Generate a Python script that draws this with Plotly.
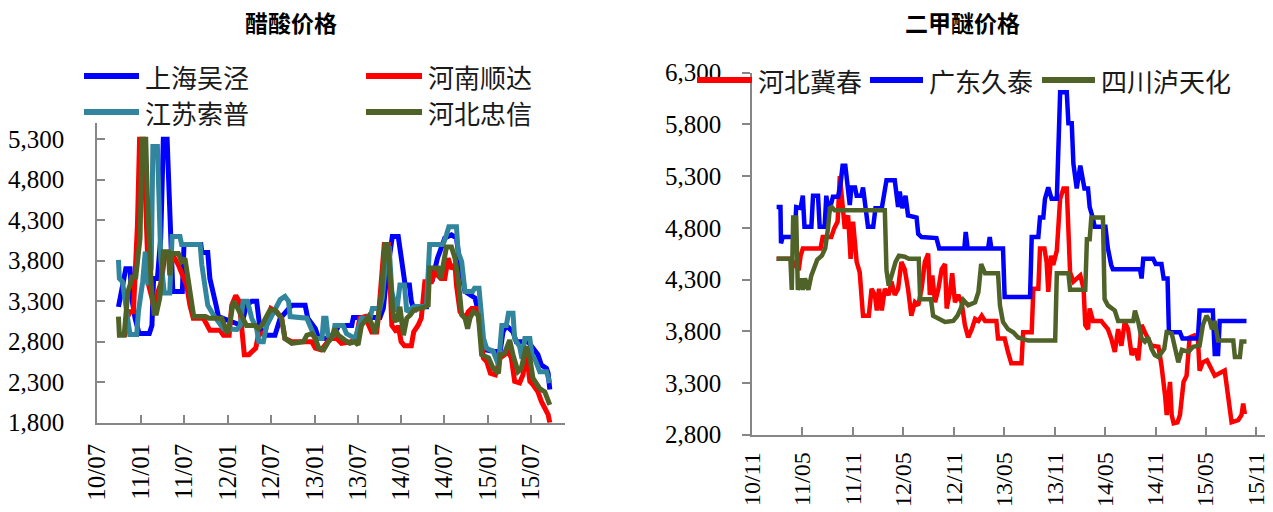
import plotly.graph_objects as go

# ---------------- 醋酸价格 (acetic acid, 元/吨) ----------------
wj_dates = ["2010-09-28", "2010-10-06", "2010-10-29", "2010-11-16", "2010-11-23", "2010-12-07",
            "2010-12-24", "2011-02-05", "2011-02-16", "2011-02-23", "2011-03-11", "2011-03-25",
            "2011-04-05", "2011-04-21", "2011-04-28", "2011-05-06", "2011-05-15", "2011-06-24",
            "2011-07-01", "2011-09-10", "2011-09-14", "2011-10-09", "2011-10-18", "2011-11-02",
            "2011-11-13", "2011-11-23", "2012-01-18", "2012-02-28", "2012-03-20", "2012-04-11",
            "2012-05-02", "2012-05-16", "2012-06-13", "2012-07-18", "2012-08-09", "2012-09-27",
            "2012-11-22", "2012-12-03", "2013-01-04", "2013-01-18", "2013-03-20", "2013-04-11",
            "2013-06-06", "2013-06-13", "2013-10-03", "2013-10-17", "2013-11-01", "2013-11-24",
            "2013-12-19", "2014-01-03", "2014-01-17", "2014-02-04", "2014-02-12", "2014-02-26",
            "2014-03-05", "2014-04-17", "2014-04-27", "2014-05-10", "2014-06-02", "2014-07-03",
            "2014-07-31", "2014-08-21", "2014-09-05", "2014-09-26", "2014-11-07", "2014-11-18",
            "2014-12-02", "2014-12-12", "2014-12-19", "2015-01-30", "2015-02-21", "2015-03-05",
            "2015-03-19", "2015-04-16", "2015-04-30", "2015-06-19", "2015-07-09", "2015-07-30",
            "2015-08-14", "2015-09-04", "2015-09-11", "2015-09-18"]
wj_vals = [3230, 3340, 3700, 3700, 3340, 3090,
           2900, 2900, 3000, 3580, 3580, 4080,
           5300, 5300, 4860, 4120, 3420, 3420,
           4000, 4000, 3900, 3900, 3580, 3420,
           3250, 3110, 3050, 3000, 3250, 3300,
           3300, 2960, 2880, 2880, 3090, 3250,
           3250, 3090, 2960, 2840, 2840, 3000,
           3000, 3100, 3100, 3210, 3620, 4100,
           4100, 3750, 3500, 3500, 3300, 3170,
           3230, 3230, 3660, 3540, 3830, 4080,
           4120, 4080, 3750, 3420, 3340, 3210,
           3090, 2760, 2700, 2680, 2680, 2920,
           3000, 2920, 2800, 2800, 2720, 2640,
           2510, 2470, 2410, 2210]

sd_dates = ["2010-09-28", "2010-10-26", "2010-11-03", "2010-11-16", "2010-11-30", "2010-12-07",
            "2010-12-17", "2010-12-26", "2011-01-12", "2011-01-19", "2011-01-26", "2011-02-02",
            "2011-02-16", "2011-02-28", "2011-03-14", "2011-03-28", "2011-04-12", "2011-05-15",
            "2011-06-07", "2011-06-28", "2011-07-12", "2011-07-26", "2011-08-09", "2011-09-21",
            "2011-10-05", "2011-10-18", "2011-11-30", "2011-12-14", "2012-01-07", "2012-01-18",
            "2012-02-04", "2012-02-18", "2012-02-28", "2012-03-11", "2012-03-30", "2012-04-11",
            "2012-04-28", "2012-05-09", "2012-06-06", "2012-07-01", "2012-07-25", "2012-08-15",
            "2012-08-29", "2012-09-27", "2012-12-20", "2013-01-04", "2013-01-29", "2013-02-15",
            "2013-03-06", "2013-04-04", "2013-04-24", "2013-06-06", "2013-06-27", "2013-07-10",
            "2013-08-01", "2013-08-29", "2013-09-19", "2013-09-26", "2013-10-10", "2013-10-21",
            "2013-11-08", "2013-11-15", "2013-11-22", "2013-12-12", "2013-12-19", "2013-12-31",
            "2014-01-14", "2014-02-12", "2014-02-22", "2014-03-12", "2014-03-26", "2014-04-10",
            "2014-05-08", "2014-05-21", "2014-06-16", "2014-07-03", "2014-07-17", "2014-07-31",
            "2014-08-15", "2014-08-21", "2014-09-05", "2014-09-26", "2014-10-10", "2014-10-24",
            "2014-11-14", "2014-11-28", "2014-12-12", "2014-12-27", "2015-01-11", "2015-02-01",
            "2015-02-21", "2015-03-12", "2015-03-26", "2015-04-09", "2015-04-23", "2015-05-14",
            "2015-05-28", "2015-06-11", "2015-06-26", "2015-07-09", "2015-07-30", "2015-08-14",
            "2015-08-31", "2015-09-11", "2015-09-18"]
sd_vals = [2890, 2890, 3090, 3170, 3170, 3620,
           4240, 5300, 5300, 4650, 3830, 3500,
           3340, 3170, 3420, 3540, 3890, 3870,
           3750, 3580, 3500, 3250, 3090, 3090,
           3000, 2940, 2940, 2880, 2880, 3250,
           3370, 3300, 3000, 2640, 2640, 2680,
           2720, 2880, 2920, 3210, 3170, 3090,
           2840, 2800, 2800, 2720, 2700, 2760,
           2840, 2840, 2780, 2800, 2880, 3090,
           3110, 2920, 2920, 3090, 3620, 4000,
           4000, 3620, 3000, 2920, 3000, 2800,
           2750, 2750, 2920, 3000, 3090, 3540,
           3540, 3660, 3580, 3580, 3830, 3700,
           3750, 3500, 3170, 3090, 3170, 3210,
           3210, 3000, 2600, 2550, 2410, 2390,
           2600, 2640, 2680, 2600, 2310, 2290,
           2390, 2680, 2310, 2270, 2180, 2060,
           1980, 1900, 1800]

sp_dates = ["2010-09-28", "2010-10-02", "2010-10-15", "2010-10-22", "2010-10-29", "2010-11-10",
            "2010-11-16", "2010-12-14", "2010-12-21", "2011-01-08", "2011-01-19", "2011-01-30",
            "2011-02-13", "2011-02-20", "2011-03-11", "2011-03-17", "2011-03-25", "2011-04-09",
            "2011-05-02", "2011-05-12", "2011-06-14", "2011-06-21", "2011-09-07", "2011-09-14",
            "2011-09-24", "2011-10-09", "2011-11-02", "2011-11-23", "2011-12-14", "2012-02-09",
            "2012-02-23", "2012-03-06", "2012-03-24", "2012-04-11", "2012-05-02", "2012-05-11",
            "2012-05-30", "2012-06-13", "2012-07-11", "2012-08-09", "2012-08-29", "2012-09-13",
            "2012-09-20", "2012-11-29", "2013-01-04", "2013-02-01", "2013-02-08", "2013-02-18",
            "2013-02-26", "2013-03-20", "2013-03-27", "2013-05-01", "2013-05-15", "2013-06-20",
            "2013-07-17", "2013-08-22", "2013-09-01", "2013-10-03", "2013-10-13", "2013-11-01",
            "2013-11-11", "2013-11-22", "2013-12-12", "2013-12-26", "2014-01-14", "2014-01-24",
            "2014-02-22", "2014-04-17", "2014-04-30", "2014-06-26", "2014-07-10", "2014-07-20",
            "2014-08-21", "2014-08-28", "2014-09-12", "2014-09-26", "2014-10-28", "2014-11-05",
            "2014-11-24", "2014-12-05", "2014-12-13", "2014-12-26", "2015-01-23", "2015-02-14",
            "2015-02-28", "2015-03-19", "2015-03-28", "2015-04-16", "2015-04-23", "2015-05-14",
            "2015-05-24", "2015-06-05", "2015-06-26", "2015-07-05", "2015-07-19", "2015-08-07",
            "2015-09-04", "2015-09-18"]
sp_vals = [3810, 3580, 3540, 3420, 3250, 3000,
           2890, 2890, 3170, 3540, 3910, 3500,
           3710, 5210, 5210, 4650, 3830, 3400,
           3400, 4100, 4100, 4000, 4000, 3750,
           3540, 3250, 3130, 3050, 2960, 2950,
           3000, 3300, 3300, 3090, 2960, 2800,
           2800, 3000, 3170, 3320, 3360, 3300,
           3110, 3090, 2840, 2840, 3090, 3090,
           2880, 2880, 3000, 3000, 2900, 2840,
           3090, 3090, 3210, 3210, 3340, 3950,
           3950, 3420, 3170, 3500, 3500, 3170,
           3230, 3250, 4000, 4000, 4120, 4220,
           4220, 3910, 3790, 3420, 3420, 3460,
           3460, 3170, 2840, 2720, 2680, 2510,
           3000, 3000, 3150, 3150, 2840, 2740,
           2590, 2840, 2840, 2640, 2570, 2430,
           2430, 2290]

zx_dates = ["2010-09-28", "2010-10-02", "2010-10-22", "2010-10-29", "2010-11-07", "2010-11-16",
            "2010-11-23", "2010-12-10", "2010-12-18", "2010-12-28", "2011-01-05", "2011-01-21",
            "2011-01-27", "2011-02-05", "2011-02-13", "2011-02-25", "2011-03-07", "2011-03-21",
            "2011-03-28", "2011-04-05", "2011-04-26", "2011-05-02", "2011-05-12", "2011-06-07",
            "2011-06-21", "2011-07-05", "2011-07-18", "2011-08-02", "2011-08-11", "2011-09-30",
            "2011-10-14", "2011-12-07", "2011-12-21", "2011-12-31", "2012-01-11", "2012-01-25",
            "2012-02-09", "2012-02-28", "2012-03-20", "2012-04-25", "2012-05-09", "2012-05-23",
            "2012-06-13", "2012-06-27", "2012-07-18", "2012-08-15", "2012-08-29", "2012-09-27",
            "2012-11-15", "2012-11-29", "2012-12-20", "2013-01-04", "2013-01-18", "2013-02-08",
            "2013-02-28", "2013-03-13", "2013-03-27", "2013-04-11", "2013-05-08", "2013-05-29",
            "2013-06-20", "2013-07-03", "2013-07-17", "2013-08-15", "2013-09-01", "2013-09-12",
            "2013-09-26", "2013-10-10", "2013-10-24", "2013-11-05", "2013-11-15", "2013-11-29",
            "2013-12-12", "2013-12-26", "2014-01-10", "2014-01-24", "2014-02-08", "2014-02-22",
            "2014-04-03", "2014-04-24", "2014-04-30", "2014-06-05", "2014-06-16", "2014-07-03",
            "2014-07-10", "2014-07-31", "2014-08-15", "2014-08-28", "2014-09-12", "2014-09-26",
            "2014-10-07", "2014-10-17", "2014-10-31", "2014-11-21", "2014-12-05", "2015-01-03",
            "2015-01-23", "2015-02-14", "2015-02-21", "2015-03-12", "2015-04-02", "2015-04-16",
            "2015-05-07", "2015-05-21", "2015-06-11", "2015-06-26", "2015-07-09", "2015-08-07",
            "2015-08-28", "2015-09-18"]
zx_vals = [3110, 2880, 2880, 3170, 3420, 3500,
           3600, 3600, 3830, 4080, 5300, 5300,
           4650, 3830, 3500, 3150, 3150, 3340,
           3620, 3910, 3910, 3620, 3890, 3890,
           3790, 3830, 3580, 3250, 3110, 3110,
           3090, 3090, 2960, 2900, 3050, 3300,
           3230, 3130, 3000, 3000, 2960, 3000,
           3110, 3190, 3190, 3090, 2840, 2780,
           2800, 2880, 2900, 2840, 2720, 2700,
           2800, 2840, 2960, 2880, 2820, 2780,
           2800, 2760, 3000, 3110, 3000, 2900,
           3110, 3420, 4000, 4000, 3620, 3090,
           3050, 3230, 2880, 3090, 3130, 3190,
           3220, 3250, 3710, 3710, 3580, 3830,
           3970, 3970, 3830, 3580, 3130, 3090,
           2960, 3090, 3170, 3130, 2640, 2600,
           2470, 2410, 2640, 2660, 2820, 2640,
           2430, 2470, 2740, 2600, 2350, 2220,
           2180, 2020]

# ---------------- 二甲醚价格 (DME, 元/吨) ----------------
jc_dates = ["2011-01-28", "2011-03-21", "2011-04-18", "2011-04-25", "2011-05-03", "2011-07-06",
            "2011-07-14", "2011-08-14", "2011-08-24", "2011-09-06", "2011-09-14", "2011-09-22",
            "2011-10-02", "2011-10-14", "2011-10-23", "2011-11-01", "2011-11-14", "2011-11-25",
            "2011-12-07", "2011-12-28", "2012-01-07", "2012-01-19", "2012-01-26", "2012-02-03",
            "2012-02-13", "2012-02-24", "2012-03-09", "2012-03-19", "2012-03-31", "2012-04-12",
            "2012-04-24", "2012-05-06", "2012-05-18", "2012-05-30", "2012-06-12", "2012-06-24",
            "2012-07-06", "2012-07-18", "2012-07-30", "2012-08-05", "2012-08-14", "2012-08-24",
            "2012-09-05", "2012-09-17", "2012-09-29", "2012-10-05", "2012-10-17", "2012-10-25",
            "2012-11-04", "2012-11-16", "2012-11-28", "2012-12-10", "2012-12-22", "2013-01-04",
            "2013-01-16", "2013-01-28", "2013-02-09", "2013-02-21", "2013-04-03", "2013-04-09",
            "2013-05-03", "2013-05-15", "2013-05-27", "2013-07-03", "2013-07-09", "2013-08-09",
            "2013-08-15", "2013-09-02", "2013-09-08", "2013-09-24", "2013-10-02", "2013-10-08",
            "2013-10-18", "2013-10-26", "2013-11-08", "2013-11-20", "2013-12-02", "2013-12-14",
            "2013-12-20", "2013-12-26", "2014-01-07", "2014-02-01", "2014-02-13", "2014-02-19",
            "2014-03-01", "2014-03-07", "2014-03-19", "2014-04-18", "2014-04-30", "2014-05-12",
            "2014-05-24", "2014-06-06", "2014-06-18", "2014-06-30", "2014-07-12", "2014-07-24",
            "2014-08-06", "2014-08-18", "2014-08-30", "2014-09-11", "2014-09-23", "2014-10-05",
            "2014-10-17", "2014-11-11", "2014-11-22", "2014-12-05", "2014-12-11", "2014-12-23",
            "2014-12-29", "2015-01-05", "2015-01-19", "2015-01-28", "2015-02-10", "2015-02-21",
            "2015-03-04", "2015-03-22", "2015-04-03", "2015-04-09", "2015-04-21", "2015-05-06",
            "2015-05-21", "2015-06-03", "2015-07-09", "2015-07-21", "2015-08-03", "2015-08-27",
            "2015-09-08", "2015-09-14", "2015-09-20"]
jc_vals = [4500, 4500, 4390, 4530, 4600, 4600,
           4710, 4710, 4790, 4860, 5300, 5050,
           4790, 4920, 4500, 4860, 4470, 4370,
           3950, 3950, 4210, 4150, 4000, 4210,
           4000, 4210, 4150, 4280, 4150, 4210,
           4470, 4400, 4210, 3950, 4080, 4050,
           4210, 4470, 4550, 4150, 4340, 4080,
           4210, 4400, 4450, 4020, 4180, 4360,
           4080, 4150, 4080, 3860, 3740, 3820,
           3920, 3900, 3950, 3900, 3900, 3730,
           3730, 3600, 3490, 3490, 3790, 3790,
           4210, 4210, 4600, 4600, 4470, 4180,
           4530, 4440, 4580, 5080, 5180, 5180,
           4790, 4370, 4280, 4340, 4210, 3860,
           3820, 4020, 3900, 3900, 3860, 3820,
           3730, 3600, 3820, 3660, 3890, 3820,
           3570, 3630, 3520, 3860, 3790, 3730,
           3660, 3650, 3470, 3180, 2990, 3310,
           2990, 2910, 2920, 2990, 3310, 3370,
           3740, 3760, 3730, 3420, 3500, 3520,
           3440, 3370, 3420, 3210, 2920, 2940,
           2990, 3100, 3000]

jt_dates = ["2011-01-28", "2011-02-11", "2011-02-13", "2011-02-19", "2011-04-03", "2011-04-09",
            "2011-04-25", "2011-05-03", "2011-05-09", "2011-06-03", "2011-06-09", "2011-06-27",
            "2011-07-03", "2011-07-21", "2011-07-27", "2011-08-05", "2011-08-20", "2011-09-08",
            "2011-09-16", "2011-09-24", "2011-10-04", "2011-10-14", "2011-10-20", "2011-10-26",
            "2011-11-08", "2011-11-14", "2011-12-01", "2011-12-07", "2011-12-16", "2011-12-25",
            "2012-01-13", "2012-01-21", "2012-02-13", "2012-03-01", "2012-03-31", "2012-04-12",
            "2012-04-18", "2012-04-27", "2012-05-09", "2012-05-18", "2012-06-18", "2012-06-24",
            "2012-07-06", "2012-08-29", "2012-09-08", "2012-12-08", "2012-12-13", "2012-12-20",
            "2013-03-04", "2013-03-10", "2013-03-16", "2013-04-27", "2013-05-03", "2013-08-03",
            "2013-08-09", "2013-09-02", "2013-09-08", "2013-09-20", "2013-09-26", "2013-10-08",
            "2013-10-20", "2013-11-08", "2013-11-20", "2013-12-14", "2013-12-20", "2014-01-01",
            "2014-01-07", "2014-01-19", "2014-02-01", "2014-02-16", "2014-03-01", "2014-03-07",
            "2014-03-19", "2014-03-25", "2014-05-03", "2014-05-12", "2014-05-24", "2014-05-30",
            "2014-09-05", "2014-09-11", "2014-09-17", "2014-10-23", "2014-11-01", "2014-11-22",
            "2014-11-30", "2014-12-14", "2014-12-19", "2015-01-28", "2015-02-06", "2015-04-03",
            "2015-04-09", "2015-05-27", "2015-06-03", "2015-06-15", "2015-06-21", "2015-09-26"]
jt_vals = [5000, 5000, 4650, 4710, 4710, 5000,
           4990, 5110, 4810, 4810, 5110, 5110,
           4810, 4810, 5110, 4940, 5100, 5100,
           5210, 5400, 5400, 5210, 5020, 5190,
           5190, 5110, 5110, 5190, 4990, 4810,
           4810, 4990, 4990, 5260, 5260, 5000,
           5150, 4990, 5110, 4920, 4900, 4740,
           4710, 4700, 4600, 4600, 4760, 4600,
           4600, 4710, 4600, 4600, 4130, 4130,
           4710, 4710, 4900, 4900, 5080, 5190,
           5080, 5080, 6110, 6110, 5810, 5810,
           5420, 5180, 5400, 5180, 5180, 5000,
           4890, 4810, 4810, 4600, 4440, 4400,
           4400, 4310, 4500, 4500, 4450, 4450,
           4310, 4310, 3790, 3790, 3730, 3730,
           4000, 4000, 3580, 3580, 3900, 3900]

lth_dates = ["2011-01-28", "2011-03-19", "2011-03-24", "2011-03-29", "2011-04-09", "2011-04-15",
             "2011-04-25", "2011-05-03", "2011-05-11", "2011-05-23", "2011-06-03", "2011-06-15",
             "2011-06-24", "2011-07-11", "2011-07-23", "2011-08-02", "2011-08-09", "2011-08-16",
             "2011-08-26", "2012-02-24", "2012-03-01", "2012-03-09", "2012-03-19", "2012-04-03",
             "2012-04-15", "2012-05-06", "2012-05-21", "2012-06-26", "2012-07-01", "2012-08-09",
             "2012-08-17", "2012-09-08", "2012-09-29", "2012-10-29", "2012-11-13", "2012-11-25",
             "2012-12-05", "2012-12-22", "2013-01-16", "2013-01-28", "2013-02-07", "2013-02-21",
             "2013-04-09", "2013-04-16", "2013-04-27", "2013-05-15", "2013-06-03", "2013-06-21",
             "2013-07-27", "2013-11-02", "2013-11-08", "2013-12-20", "2013-12-26", "2014-02-19",
             "2014-02-25", "2014-03-07", "2014-03-13", "2014-04-24", "2014-04-30", "2014-05-12",
             "2014-06-06", "2014-06-18", "2014-08-12", "2014-08-18", "2014-08-30", "2014-09-11",
             "2014-09-23", "2014-10-05", "2014-10-17", "2014-10-29", "2014-11-11", "2014-12-02",
             "2014-12-11", "2014-12-29", "2015-01-10", "2015-01-22", "2015-02-04", "2015-02-28",
             "2015-03-16", "2015-04-09", "2015-04-21", "2015-05-04", "2015-05-16", "2015-05-24",
             "2015-06-03", "2015-06-15", "2015-08-09", "2015-08-15", "2015-09-02", "2015-09-08",
             "2015-09-26"]
lth_vals = [4500, 4500, 4200, 4900, 4900, 4200,
            4310, 4200, 4310, 4200, 4340, 4440,
            4490, 4530, 4600, 4790, 4990, 5000,
            4970, 4970, 4390, 4240, 4340, 4470,
            4530, 4520, 4500, 4500, 4110, 4110,
            3950, 3920, 3890, 3900, 3950, 4020,
            4100, 4050, 4080, 4180, 4450, 4360,
            4360, 4050, 3890, 3820, 3790, 3740,
            3710, 3710, 4360, 4360, 4200, 4200,
            4690, 4690, 4900, 4900, 4110, 4050,
            4000, 3900, 3900, 4000, 3890, 3730,
            3700, 3740, 3630, 3570, 3550, 3630,
            3790, 3780, 3630, 3500, 3620, 3600,
            3650, 3660, 3860, 3950, 3900, 3820,
            3900, 3710, 3710, 3550, 3550, 3700,
            3700]

acetic_ticks = [1800, 2300, 2800, 3300, 3800, 4300, 4800, 5300]
dme_ticks = [2800, 3300, 3800, 4300, 4800, 5300, 5800, 6300]

BLUE, RED, TEAL, OLIVE = "#0000FF", "#FF0000", "#31859C", "#4F6228"
AXIS_GREY = "#868686"
NUM_FONT = dict(family="Liberation Serif", size=25, color="#000000")
CJK = "Noto Sans CJK SC"

W, H = 1273, 512


def px(x):
    return x / W


def py(y):
    return 1 - y / H


fig = go.Figure()

acetic = [("上海吴泾", wj_dates, wj_vals, BLUE),
          ("河南顺达", sd_dates, sd_vals, RED),
          ("江苏索普", sp_dates, sp_vals, TEAL),
          ("河北忠信", zx_dates, zx_vals, OLIVE)]
for name, d, v, c in acetic:
    fig.add_trace(go.Scatter(x=d, y=v, name=name, mode="lines",
                             line=dict(color=c, width=5),
                             xaxis="x", yaxis="y", showlegend=False))

dme = [("河北冀春", jc_dates, jc_vals, RED),
       ("广东久泰", jt_dates, jt_vals, BLUE),
       ("四川泸天化", lth_dates, lth_vals, OLIVE)]
for name, d, v, c in dme:
    fig.add_trace(go.Scatter(x=d, y=v, name=name, mode="lines",
                             line=dict(color=c, width=4.5),
                             xaxis="x2", yaxis="y2", showlegend=False))

common_x = dict(type="date", dtick="M6", tickformat="%y/%m", tickangle=-90,
                ticks="inside", ticklen=8, tickwidth=1.5, tickcolor=AXIS_GREY,
                showline=True, linecolor=AXIS_GREY, linewidth=2,
                showgrid=False, zeroline=False, automargin=False)
common_y = dict(tickmode="array", tickformat=",", ticklen=8, tickwidth=1.5,
                tickcolor=AXIS_GREY, showline=True, linecolor=AXIS_GREY,
                linewidth=2, showgrid=False, zeroline=False, tickfont=NUM_FONT,
                automargin=False)

fig.update_layout(
    width=W, height=H, autosize=False,
    margin=dict(l=0, r=0, t=0, b=0, pad=0, autoexpand=False),
    paper_bgcolor="white", plot_bgcolor="white",
    hovermode=False,
    xaxis=dict(common_x, domain=[px(97.3), px(565)], anchor="y",
               range=["2010-07-01", "2015-11-21"], tick0="2010-07-01",
               tickfont=NUM_FONT, ticklabelstandoff=9),
    yaxis=dict(common_y, domain=[py(422.7), py(123)], anchor="x",
               range=[1800, 5500], tickvals=acetic_ticks, ticks="inside",
               ticklabelstandoff=26),
    xaxis2=dict(common_x, domain=[px(752.3), px(1265)], anchor="y2",
                range=["2010-11-01", "2015-12-02"], tick0="2010-11-01",
                tickfont=dict(NUM_FONT, size=24), ticklabelstandoff=6),
    yaxis2=dict(common_y, domain=[py(434.7), py(72.6)], anchor="x2",
                range=[2800, 6300], tickvals=dme_ticks, ticks="outside",
                ticklabelstandoff=16),
)

# titles
annotations = [
    dict(text="<b>醋酸价格</b>", x=px(291), y=py(22)),
    dict(text="<b>二甲醚价格</b>", x=px(962), y=py(22)),
]
for a in annotations:
    a.update(xref="paper", yref="paper", showarrow=False, xanchor="center",
             yanchor="middle", font=dict(family=CJK, size=23, color="#000000"))

# legend keys: (line start, line end, row y, label, colour)
legend_items = [
    (84, 139, 76, "上海吴泾", BLUE),
    (366, 422, 76, "河南顺达", RED),
    (84, 139, 112, "江苏索普", TEAL),
    (366, 422, 112, "河北忠信", OLIVE),
    (697, 752, 80, "河北冀春", RED),
    (870, 923, 80, "广东久泰", BLUE),
    (1042, 1095, 80, "四川泸天化", OLIVE),
]
shapes = []
for x0, x1, yy, label, color in legend_items:
    shapes.append(dict(type="line", xref="paper", yref="paper",
                       x0=px(x0), x1=px(x1), y0=py(yy), y1=py(yy),
                       line=dict(color=color, width=6)))
    annotations.append(dict(text=label, xref="paper", yref="paper",
                            x=px(x1 + 4), y=py(yy), xanchor="left",
                            yanchor="middle", showarrow=False,
                            font=dict(family=CJK, size=26, color="#1a1a1a")))

fig.update_layout(shapes=shapes, annotations=annotations)

fig.write_html("out.html")
